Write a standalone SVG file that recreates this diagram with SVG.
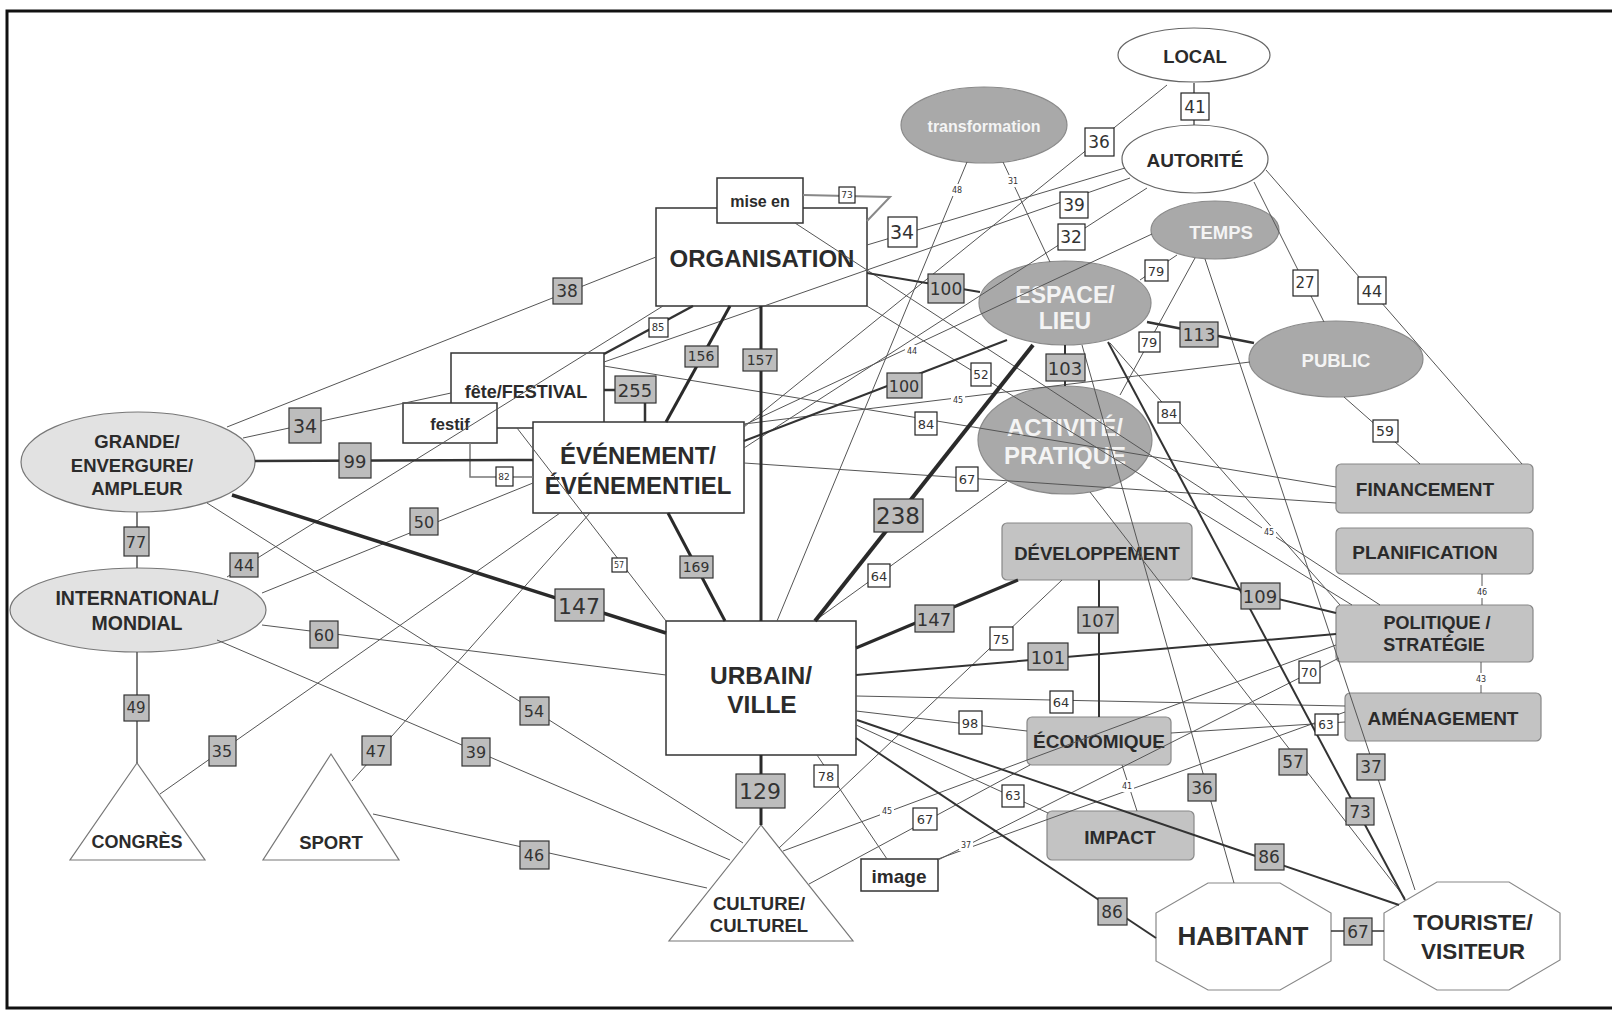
<svg xmlns="http://www.w3.org/2000/svg" width="1612" height="1018" viewBox="0 0 1612 1018">
<style>
.ew{fill:#fff;stroke:#666;stroke-width:1.2}
.eg{fill:#a9a9a9;stroke:#8a8a8a;stroke-width:1.2}
.el{fill:#e2e2e2;stroke:#777;stroke-width:1.2}
.rw{fill:#fff;stroke:#333;stroke-width:1.5}
.rg{fill:#c3c3c3;stroke:#888;stroke-width:1.2}
.tri{fill:#fff;stroke:#777;stroke-width:1.2}
.oct{fill:#fff;stroke:#888;stroke-width:1.2}
text{text-anchor:middle;dominant-baseline:central}
.n{font-family:"Liberation Sans",Arial,sans-serif;font-weight:bold;fill:#2b2b2b}
.nw{font-family:"Liberation Sans",Arial,sans-serif;font-weight:bold;fill:#f4f4f4}
.lb{font-family:"DejaVu Sans","Liberation Sans",sans-serif;fill:#333}
.bg{fill:#bdbdbd;stroke:#333;stroke-width:1.2}
.bw{fill:#fff;stroke:#222;stroke-width:1.2}
.bt{fill:#fff;stroke:none}
#edges line,#edges polyline{fill:none;stroke-linecap:butt}
.t{stroke:#555;stroke-width:1}
.m{stroke:#333;stroke-width:2}
.h{stroke:#2a2a2a;stroke-width:3}
.hh{stroke:#2a2a2a;stroke-width:4}
</style>
<rect x="7" y="11" width="1612" height="997" fill="#fff" stroke="#111" stroke-width="3"/>

<g id="nodes">
<g id="n-local"><ellipse cx="1194" cy="55" rx="76" ry="27" class="ew"/><text x="1195" y="56" class="n" font-size="18.5">LOCAL</text></g>
<g id="n-autorite"><ellipse cx="1195" cy="159" rx="73" ry="34" class="ew"/><text x="1195" y="160" class="n" font-size="19">AUTORITÉ</text></g>
<g id="n-transformation"><ellipse cx="984" cy="125" rx="83" ry="38" class="eg"/><text x="984" y="126" class="nw" font-size="16">transformation</text></g>
<g id="n-temps"><ellipse cx="1215" cy="230" rx="64" ry="29" class="eg"/><text x="1221" y="232" class="nw" font-size="18.5">TEMPS</text></g>
<g id="n-espace"><ellipse cx="1065" cy="303" rx="86" ry="42" class="eg"/><text x="1065" y="295" class="nw" font-size="23">ESPACE/</text><text x="1065" y="321" class="nw" font-size="23">LIEU</text></g>
<g id="n-public"><ellipse cx="1336" cy="359" rx="87" ry="38" class="eg"/><text x="1336" y="360" class="nw" font-size="18.5">PUBLIC</text></g>
<g id="n-activite"><ellipse cx="1065" cy="440" rx="87" ry="54" class="eg"/><text x="1065" y="427" class="nw" font-size="24">ACTIVITÉ/</text><text x="1065" y="455" class="nw" font-size="24">PRATIQUE</text></g>
<g id="n-organisation"><rect x="656" y="208" width="211" height="98" class="rw"/><text x="762" y="258" class="n" font-size="24">ORGANISATION</text></g>
<g id="n-miseen"><rect x="717" y="178" width="86" height="45" class="rw"/><text x="760" y="201" class="n" font-size="16">mise en</text></g>
<g id="n-fete"><rect x="451" y="353" width="153" height="75" class="rw"/><text x="526" y="392" class="n" font-size="18">fête/FESTIVAL</text></g>
<g id="n-festif"><rect x="403" y="403" width="94" height="40" class="rw"/><text x="450" y="424" class="n" font-size="16.5">festif</text></g>
<g id="n-evenement"><rect x="533" y="422" width="211" height="91" class="rw"/><text x="638" y="455" class="n" font-size="24">ÉVÉNEMENT/</text><text x="638" y="485" class="n" font-size="24">ÉVÉNEMENTIEL</text></g>
<g id="n-urbain"><rect x="666" y="621" width="190" height="134" class="rw"/><text x="761" y="675" class="n" font-size="24.5">URBAIN/</text><text x="762" y="704" class="n" font-size="24.5">VILLE</text></g>
<g id="n-grande"><ellipse cx="138" cy="462" rx="117" ry="50" class="el"/><text x="137" y="441" class="n" font-size="18.5">GRANDE/</text><text x="132" y="465" class="n" font-size="18.5">ENVERGURE/</text><text x="137" y="488" class="n" font-size="18.5">AMPLEUR</text></g>
<g id="n-international"><ellipse cx="138" cy="610" rx="128" ry="42" class="el"/><text x="137" y="598" class="n" font-size="19.5">INTERNATIONAL/</text><text x="137" y="623" class="n" font-size="19.5">MONDIAL</text></g>
<g id="n-congres"><polygon points="137,763 70,860 205,860" class="tri"/><text x="137" y="842" class="n" font-size="18">CONGRÈS</text></g>
<g id="n-sport"><polygon points="331,754 263,860 399,860" class="tri"/><text x="331" y="842" class="n" font-size="18.5">SPORT</text></g>
<g id="n-culture"><polygon points="761,825 669,941 853,941" class="tri"/><text x="759" y="903" class="n" font-size="18.5">CULTURE/</text><text x="759" y="925" class="n" font-size="18.5">CULTUREL</text></g>
<g id="n-image"><rect x="861" y="859" width="77" height="32" class="rw"/><text x="899" y="876" class="n" font-size="19">image</text></g>
<g id="n-developpement"><rect x="1002" y="523" width="190" height="57" rx="5" class="rg"/><text x="1097" y="553" class="n" font-size="18.5">DÉVELOPPEMENT</text></g>
<g id="n-economique"><rect x="1027" y="717" width="144" height="48" rx="5" class="rg"/><text x="1099" y="741" class="n" font-size="19">ÉCONOMIQUE</text></g>
<g id="n-impact"><rect x="1047" y="811" width="147" height="49" rx="5" class="rg"/><text x="1120" y="837" class="n" font-size="19">IMPACT</text></g>
<g id="n-financement"><rect x="1336" y="464" width="197" height="49" rx="5" class="rg"/><text x="1425" y="489" class="n" font-size="19">FINANCEMENT</text></g>
<g id="n-planification"><rect x="1336" y="528" width="197" height="46" rx="5" class="rg"/><text x="1425" y="552" class="n" font-size="19">PLANIFICATION</text></g>
<g id="n-politique"><rect x="1336" y="605" width="197" height="57" rx="5" class="rg"/><text x="1437" y="623" class="n" font-size="18">POLITIQUE /</text><text x="1434" y="645" class="n" font-size="18">STRATÉGIE</text></g>
<g id="n-amenagement"><rect x="1345" y="693" width="196" height="48" rx="5" class="rg"/><text x="1443" y="718" class="n" font-size="19">AMÉNAGEMENT</text></g>
<g id="n-habitant"><polygon points="1208,883 1280,883 1331,913 1331,961 1280,990 1208,990 1156,961 1156,913" class="oct"/><text x="1243" y="936" class="n" font-size="26">HABITANT</text></g>
<g id="n-touriste"><polygon points="1437,882 1509,882 1560,913 1560,960 1509,990 1437,990 1384,960 1384,913" class="oct"/><text x="1473" y="922" class="n" font-size="22.5">TOURISTE/</text><text x="1473" y="951" class="n" font-size="22.5">VISITEUR</text></g>
</g>

<g id="edges">
<line class="t" x1="1167" y1="85" x2="744" y2="427"/>
<line class="t" x1="1125" y1="168" x2="867" y2="245"/>
<line class="t" x1="1130" y1="178" x2="604" y2="362"/>
<line class="t" x1="1147" y1="188" x2="744" y2="448"/>
<line class="t" x1="967" y1="162" x2="777" y2="621"/>
<line class="t" x1="1003" y1="162" x2="1050" y2="262"/>
<line class="t" x1="1177" y1="255" x2="1140" y2="280"/>
<line class="t" x1="1195" y1="258" x2="1120" y2="395"/>
<line class="t" x1="1254" y1="182" x2="1324" y2="322"/>
<line class="t" x1="1266" y1="170" x2="1522" y2="464"/>
<line class="t" x1="1344" y1="397" x2="1420" y2="464"/>
<line class="t" x1="227" y1="427" x2="656" y2="257"/>
<line class="t" x1="243" y1="438" x2="451" y2="393"/>
<line class="t" x1="207" y1="503" x2="743" y2="843"/>
<line class="t" x1="227" y1="577" x2="663" y2="306"/>
<line class="t" x1="262" y1="593" x2="533" y2="483"/>
<line class="t" x1="262" y1="625" x2="666" y2="675"/>
<line class="t" x1="217" y1="640" x2="730" y2="860"/>
<line class="t" x1="160" y1="794" x2="560" y2="513"/>
<line class="t" x1="352" y1="781" x2="590" y2="513"/>
<line class="t" x1="373" y1="814" x2="707" y2="888"/>
<line class="t" x1="517" y1="428" x2="666" y2="621"/>
<polyline class="t" points="470,443 470,477 533,477" style="stroke:#777;stroke-width:1.5"/>
<line class="t" x1="744" y1="425" x2="1152" y2="234"/>
<line class="t" x1="744" y1="424" x2="1250" y2="362"/>
<line class="t" x1="604" y1="366" x2="1336" y2="487"/>
<line class="t" x1="744" y1="463" x2="1336" y2="503"/>
<line class="t" x1="867" y1="306" x2="1352" y2="605"/>
<line class="t" x1="795" y1="223" x2="1380" y2="605"/>
<line class="t" x1="1110" y1="343" x2="1340" y2="605"/>
<line class="t" x1="1082" y1="345" x2="1234" y2="883"/>
<line class="t" x1="1090" y1="492" x2="1405" y2="898"/>
<line class="t" x1="1205" y1="259" x2="1415" y2="890"/>
<line class="t" x1="820" y1="617" x2="1007" y2="482"/>
<line class="t" x1="1062" y1="580" x2="779" y2="848"/>
<line class="t" x1="783" y1="851" x2="1336" y2="645"/>
<line class="t" x1="809" y1="884" x2="1030" y2="765"/>
<line class="t" x1="938" y1="860" x2="1339" y2="658"/>
<line class="t" x1="938" y1="859" x2="1345" y2="712"/>
<line class="t" x1="856" y1="696" x2="1345" y2="706"/>
<line class="t" x1="856" y1="711" x2="1027" y2="731"/>
<line class="t" x1="1171" y1="733" x2="1345" y2="722"/>
<line class="t" x1="856" y1="725" x2="1048" y2="813"/>
<line class="t" x1="1122" y1="765" x2="1137" y2="811"/>
<line class="t" x1="817" y1="755" x2="887" y2="859"/>
<polyline class="t" points="803,195 890,197 867,221" style="stroke:#888;stroke-width:2"/>
<line class="t" x1="1482" y1="574" x2="1482" y2="605"/>
<line class="t" x1="1481" y1="662" x2="1481" y2="693"/>
<line class="t" x1="1194" y1="83" x2="1194" y2="125" style="stroke-width:1.5"/>
<line class="t" x1="137" y1="512" x2="137" y2="568" style="stroke-width:1.5"/>
<line class="t" x1="137" y1="652" x2="137" y2="763" style="stroke-width:1.5"/>
<line class="m" x1="867" y1="273" x2="980" y2="292"/>
<line class="m" x1="744" y1="441" x2="1007" y2="340"/>
<line class="m" x1="1147" y1="322" x2="1254" y2="343" style="stroke-width:2.5"/>
<line class="m" x1="1065" y1="345" x2="1065" y2="386"/>
<line class="m" x1="1108" y1="342" x2="1405" y2="900"/>
<line class="m" x1="857" y1="720" x2="1399" y2="905"/>
<line class="m" x1="856" y1="738" x2="1156" y2="938"/>
<line class="m" x1="1331" y1="931" x2="1384" y2="931" style="stroke-width:1.5"/>
<line class="m" x1="1192" y1="578" x2="1336" y2="613"/>
<line class="m" x1="856" y1="675" x2="1336" y2="634"/>
<line class="m" x1="1099" y1="580" x2="1099" y2="717"/>
<line class="m" x1="255" y1="461" x2="533" y2="460" style="stroke-width:2.5"/>
<polyline class="m" points="604,390 645,390 645,422" style="stroke-width:2.5"/>
<line class="m" x1="693" y1="306" x2="604" y2="354" style="stroke-width:2.5"/>
<line class="h" x1="856" y1="648" x2="1018" y2="580"/>
<line class="hh" x1="815" y1="621" x2="1033" y2="345"/>
<line class="h" x1="232" y1="495" x2="666" y2="633" style="stroke-width:3.5"/>
<line class="h" x1="730" y1="306" x2="666" y2="422"/>
<line class="h" x1="761" y1="306" x2="761" y2="621"/>
<line class="h" x1="668" y1="513" x2="725" y2="621"/>
<line class="h" x1="761" y1="755" x2="761" y2="825"/>
</g>

<g id="labels">
<g><rect x="1181" y="93" width="28" height="27" class="bw"/><text x="1195" y="107" class="lb" font-size="17">41</text></g>
<g><rect x="1085" y="128" width="29" height="28" class="bw"/><text x="1099" y="142" class="lb" font-size="17">36</text></g>
<g><rect x="888" y="217" width="29" height="30" class="bw"/><text x="902" y="232" class="lb" font-size="19">34</text></g>
<g><rect x="1060" y="192" width="28" height="26" class="bw"/><text x="1074" y="205" class="lb" font-size="17">39</text></g>
<g><rect x="1058" y="224" width="27" height="26" class="bw"/><text x="1071" y="237" class="lb" font-size="17">32</text></g>
<g><rect x="839" y="187" width="16" height="16" class="bw"/><text x="847" y="195" class="lb" font-size="9">73</text></g>
<g><rect x="950" y="184" width="14" height="12" class="bt"/><text x="957" y="190" class="lb" font-size="8">48</text></g>
<g><rect x="1006" y="175" width="14" height="12" class="bt"/><text x="1013" y="181" class="lb" font-size="8">31</text></g>
<g><rect x="928" y="274" width="36" height="29" class="bg"/><text x="946" y="289" class="lb" font-size="17">100</text></g>
<g><rect x="1145" y="260" width="23" height="21" class="bw"/><text x="1156" y="271" class="lb" font-size="13">79</text></g>
<g><rect x="1139" y="332" width="21" height="20" class="bw"/><text x="1149" y="342" class="lb" font-size="13">79</text></g>
<g><rect x="1180" y="322" width="38" height="25" class="bg"/><text x="1199" y="335" class="lb" font-size="17">113</text></g>
<g><rect x="1293" y="270" width="25" height="26" class="bw"/><text x="1305" y="283" class="lb" font-size="15">27</text></g>
<g><rect x="1358" y="277" width="28" height="27" class="bw"/><text x="1372" y="291" class="lb" font-size="16">44</text></g>
<g><rect x="1373" y="420" width="25" height="22" class="bw"/><text x="1385" y="431" class="lb" font-size="14">59</text></g>
<g><rect x="553" y="278" width="29" height="26" class="bg"/><text x="567" y="291" class="lb" font-size="17">38</text></g>
<g><rect x="649" y="318" width="19" height="19" class="bw"/><text x="658" y="327" class="lb" font-size="10">85</text></g>
<g><rect x="685" y="346" width="33" height="21" class="bg"/><text x="701" y="356" class="lb" font-size="14">156</text></g>
<g><rect x="743" y="349" width="34" height="22" class="bg"/><text x="760" y="360" class="lb" font-size="14">157</text></g>
<g><rect x="615" y="376" width="41" height="27" class="bg"/><text x="635" y="390" class="lb" font-size="18">255</text></g>
<g><rect x="289" y="408" width="32" height="35" class="bg"/><text x="305" y="426" class="lb" font-size="19">34</text></g>
<g><rect x="339" y="443" width="32" height="35" class="bg"/><text x="355" y="461" class="lb" font-size="18">99</text></g>
<g><rect x="496" y="467" width="17" height="19" class="bw"/><text x="504" y="477" class="lb" font-size="9">82</text></g>
<g><rect x="124" y="527" width="25" height="29" class="bg"/><text x="136" y="542" class="lb" font-size="16">77</text></g>
<g><rect x="230" y="553" width="28" height="24" class="bg"/><text x="244" y="565" class="lb" font-size="16">44</text></g>
<g><rect x="410" y="508" width="28" height="27" class="bg"/><text x="424" y="522" class="lb" font-size="16">50</text></g>
<g><rect x="310" y="621" width="28" height="27" class="bg"/><text x="324" y="635" class="lb" font-size="16">60</text></g>
<g><rect x="124" y="695" width="25" height="26" class="bg"/><text x="136" y="708" class="lb" font-size="15">49</text></g>
<g><rect x="209" y="736" width="27" height="30" class="bg"/><text x="222" y="751" class="lb" font-size="16">35</text></g>
<g><rect x="362" y="736" width="29" height="29" class="bg"/><text x="376" y="751" class="lb" font-size="16">47</text></g>
<g><rect x="520" y="697" width="29" height="28" class="bg"/><text x="534" y="711" class="lb" font-size="16">54</text></g>
<g><rect x="462" y="738" width="28" height="28" class="bg"/><text x="476" y="752" class="lb" font-size="16">39</text></g>
<g><rect x="520" y="841" width="29" height="28" class="bg"/><text x="534" y="855" class="lb" font-size="16">46</text></g>
<g><rect x="555" y="589" width="49" height="32" class="bg"/><text x="579" y="606" class="lb" font-size="22">147</text></g>
<g><rect x="612" y="558" width="15" height="14" class="bw"/><text x="619" y="565" class="lb" font-size="8">57</text></g>
<g><rect x="680" y="556" width="33" height="22" class="bg"/><text x="696" y="567" class="lb" font-size="14">169</text></g>
<g><rect x="736" y="774" width="49" height="34" class="bg"/><text x="760" y="791" class="lb" font-size="22">129</text></g>
<g><rect x="814" y="765" width="24" height="22" class="bw"/><text x="826" y="776" class="lb" font-size="13">78</text></g>
<g><rect x="905" y="345" width="14" height="12" class="bt"/><text x="912" y="351" class="lb" font-size="8">44</text></g>
<g><rect x="887" y="373" width="35" height="25" class="bg"/><text x="904" y="386" class="lb" font-size="16">100</text></g>
<g><rect x="971" y="363" width="20" height="23" class="bw"/><text x="981" y="375" class="lb" font-size="12">52</text></g>
<g><rect x="951" y="394" width="14" height="12" class="bt"/><text x="958" y="400" class="lb" font-size="8">45</text></g>
<g><rect x="915" y="412" width="22" height="23" class="bw"/><text x="926" y="424" class="lb" font-size="13">84</text></g>
<g><rect x="1046" y="354" width="39" height="27" class="bg"/><text x="1065" y="368" class="lb" font-size="18">103</text></g>
<g><rect x="1158" y="402" width="22" height="21" class="bw"/><text x="1169" y="413" class="lb" font-size="13">84</text></g>
<g><rect x="956" y="467" width="22" height="24" class="bw"/><text x="967" y="479" class="lb" font-size="13">67</text></g>
<g><rect x="874" y="499" width="49" height="33" class="bg"/><text x="898" y="516" class="lb" font-size="23">238</text></g>
<g><rect x="868" y="564" width="22" height="23" class="bw"/><text x="879" y="576" class="lb" font-size="13">64</text></g>
<g><rect x="915" y="605" width="39" height="27" class="bg"/><text x="934" y="619" class="lb" font-size="18">147</text></g>
<g><rect x="990" y="627" width="23" height="23" class="bw"/><text x="1001" y="639" class="lb" font-size="13">75</text></g>
<g><rect x="1078" y="607" width="40" height="26" class="bg"/><text x="1098" y="620" class="lb" font-size="18">107</text></g>
<g><rect x="1028" y="643" width="40" height="27" class="bg"/><text x="1048" y="657" class="lb" font-size="18">101</text></g>
<g><rect x="1241" y="583" width="39" height="26" class="bg"/><text x="1260" y="596" class="lb" font-size="18">109</text></g>
<g><rect x="1262" y="526" width="14" height="12" class="bt"/><text x="1269" y="532" class="lb" font-size="8">45</text></g>
<g><rect x="1475" y="586" width="14" height="12" class="bt"/><text x="1482" y="592" class="lb" font-size="8">46</text></g>
<g><rect x="1299" y="661" width="21" height="22" class="bw"/><text x="1309" y="672" class="lb" font-size="13">70</text></g>
<g><rect x="1474" y="673" width="14" height="12" class="bt"/><text x="1481" y="679" class="lb" font-size="8">43</text></g>
<g><rect x="1050" y="691" width="23" height="22" class="bw"/><text x="1061" y="702" class="lb" font-size="13">64</text></g>
<g><rect x="959" y="711" width="23" height="23" class="bw"/><text x="970" y="723" class="lb" font-size="13">98</text></g>
<g><rect x="1315" y="714" width="23" height="21" class="bw"/><text x="1326" y="725" class="lb" font-size="12">63</text></g>
<g><rect x="1002" y="785" width="22" height="22" class="bw"/><text x="1013" y="796" class="lb" font-size="12">63</text></g>
<g><rect x="1120" y="780" width="14" height="12" class="bt"/><text x="1127" y="786" class="lb" font-size="8">41</text></g>
<g><rect x="880" y="805" width="14" height="12" class="bt"/><text x="887" y="811" class="lb" font-size="8">45</text></g>
<g><rect x="913" y="808" width="24" height="22" class="bw"/><text x="925" y="819" class="lb" font-size="13">67</text></g>
<g><rect x="959" y="839" width="14" height="12" class="bt"/><text x="966" y="845" class="lb" font-size="8">37</text></g>
<g><rect x="1188" y="774" width="28" height="27" class="bg"/><text x="1202" y="788" class="lb" font-size="17">36</text></g>
<g><rect x="1279" y="749" width="28" height="26" class="bg"/><text x="1293" y="762" class="lb" font-size="17">57</text></g>
<g><rect x="1357" y="754" width="28" height="26" class="bg"/><text x="1371" y="767" class="lb" font-size="17">37</text></g>
<g><rect x="1346" y="798" width="28" height="27" class="bg"/><text x="1360" y="812" class="lb" font-size="17">73</text></g>
<g><rect x="1255" y="844" width="29" height="26" class="bg"/><text x="1269" y="857" class="lb" font-size="17">86</text></g>
<g><rect x="1098" y="898" width="29" height="27" class="bg"/><text x="1112" y="912" class="lb" font-size="17">86</text></g>
<g><rect x="1344" y="918" width="28" height="27" class="bg"/><text x="1358" y="932" class="lb" font-size="17">67</text></g>
</g>
</svg>
